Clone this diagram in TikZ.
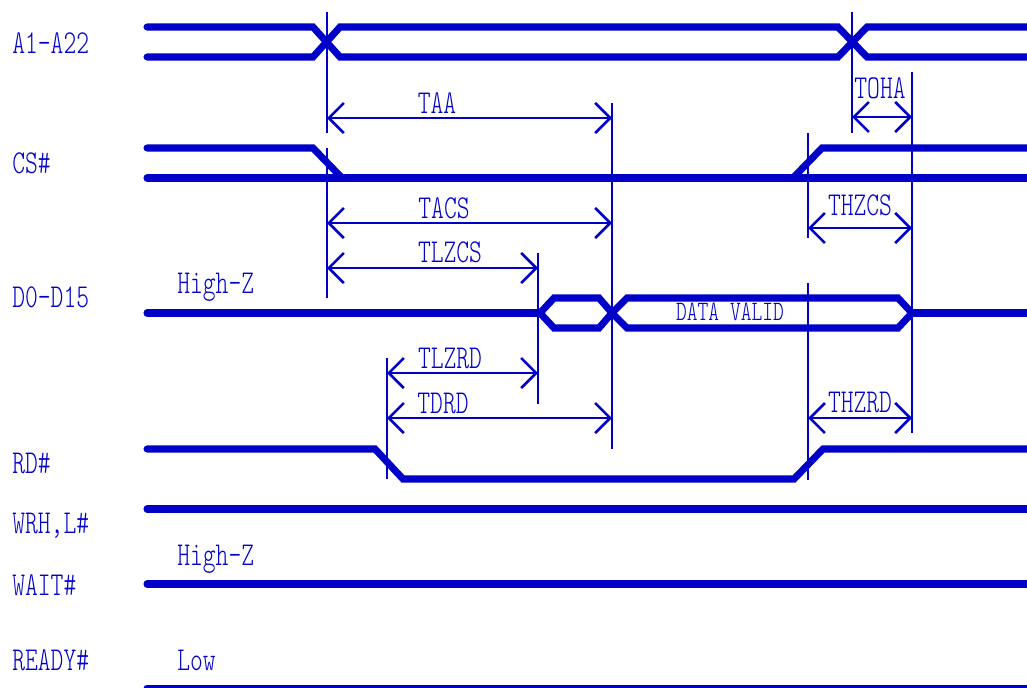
\documentclass[tikz,border=0pt]{standalone}
\usepackage{fontspec}
\newfontfamily\sigfont[Extension=.otf, FakeStretch=0.73]{lmmonolt10-regular}
\usetikzlibrary{arrows.meta}
\definecolor{sigblue}{RGB}{0,0,200}

\begin{document}
\begin{tikzpicture}[x=0.02cm, y=-0.02cm,
    >={Straight Barb[length=0.3cm, width=0.6cm]},
    sig/.style={sigblue, line width=4pt, line cap=round},
    guide/.style={sigblue, line width=1.5pt},
    dim/.style={sigblue, line width=1.5pt, <->},
    signame/.style={sigblue, anchor=base west, inner sep=0pt, font=\sigfont\fontsize{19}{20}\selectfont},
    tlabel/.style={sigblue, inner sep=0pt, font=\sigfont\fontsize{19}{20}\selectfont}]
    \useasboundingbox (0,0) rectangle (1027,687);

    % 1. Signal names
    \node[signame] (nA) at (12,53) {A1-A22};
    \node[signame] (nCS) at (12,173) {CS\#};
    \node[signame] (nD) at (12,307) {D0-D15};
    \node[signame] (nRD) at (12,473) {RD\#};
    \node[signame] (nWR) at (12,533) {WRH,L\#};
    \node[signame] (nWAIT) at (12,595) {WAIT\#};
    \node[signame] (nREADY) at (12,670) {READY\#};
    \node[signame] (zD) at (177,293) {High-Z};
    \node[signame] (zWAIT) at (177,565) {High-Z};
    \node[signame] (lowREADY) at (177,670) {Low};

    % 2. Waveforms
    \draw[sig] (147,27) -- (313,27) -- (340,57) -- (838,57) -- (867,27) -- (1035,27);
    \draw[sig] (147,57) -- (313,57) -- (340,27) -- (838,27) -- (867,57) -- (1035,57);
    \draw[sig] (147,148) -- (313,148) -- (342,178);
    \draw[sig] (147,178) -- (1035,178);
    \draw[sig] (793,178) -- (822,148) -- (1035,148);
    \draw[sig] (147,313) -- (540,313);
    \draw[sig] (540,313) -- (554,298) -- (599,298) -- (612,313) -- (599,328) -- (554,328) -- cycle;
    \draw[sig] (612,313) -- (627,298) -- (898,298) -- (912,313) -- (898,328) -- (627,328) -- cycle;
    \draw[sig] (912,313) -- (1035,313);
    \draw[sig] (147,449) -- (375,449) -- (403,479) -- (794,479) -- (823,449) -- (1035,449);
    \draw[sig] (147,509) -- (1035,509);
    \draw[sig] (147,584) -- (1035,584);
    \draw[sig] (147,688) -- (1035,688);
    \node[tlabel, font=\sigfont\fontsize{16}{17}\selectfont] (valid) at (730,312) {DATA VALID};

    % 3. Reference lines
    \draw[guide] (327,12) -- (327,133);
    \draw[guide] (327,148) -- (327,298);
    \draw[guide] (852,12) -- (852,133);
    \draw[guide] (612,103) -- (612,449);
    \draw[guide] (912,72) -- (912,433);
    \draw[guide] (538,253) -- (538,404);
    \draw[guide] (387,358) -- (387,479);
    \draw[guide] (808,133) -- (808,238);
    \draw[guide] (808,283) -- (808,480);

    % 4. Timing parameters
    \draw[dim] (327,118) -- (612,118);
    \node[tlabel] (tAA) at (437,103) {TAA};
    \draw[dim] (852,117) -- (912,117);
    \node[tlabel] (tOHA) at (880,88) {TOHA};
    \draw[dim] (327,223) -- (612,223);
    \node[tlabel] (tACS) at (444,208) {TACS};
    \draw[dim] (808,228) -- (912,228);
    \node[tlabel] (tHZCS) at (860,205) {THZCS};
    \draw[dim] (327,268) -- (538,268);
    \node[tlabel] (tLZCS) at (450,252) {TLZCS};
    \draw[dim] (387,373) -- (538,373);
    \node[tlabel] (tLZRD) at (450,358) {TLZRD};
    \draw[dim] (387,418) -- (612,418);
    \node[tlabel] (tDRD) at (443,403) {TDRD};
    \draw[dim] (808,418) -- (912,418);
    \node[tlabel] (tHZRD) at (860,402) {THZRD};
\end{tikzpicture}
\end{document}
